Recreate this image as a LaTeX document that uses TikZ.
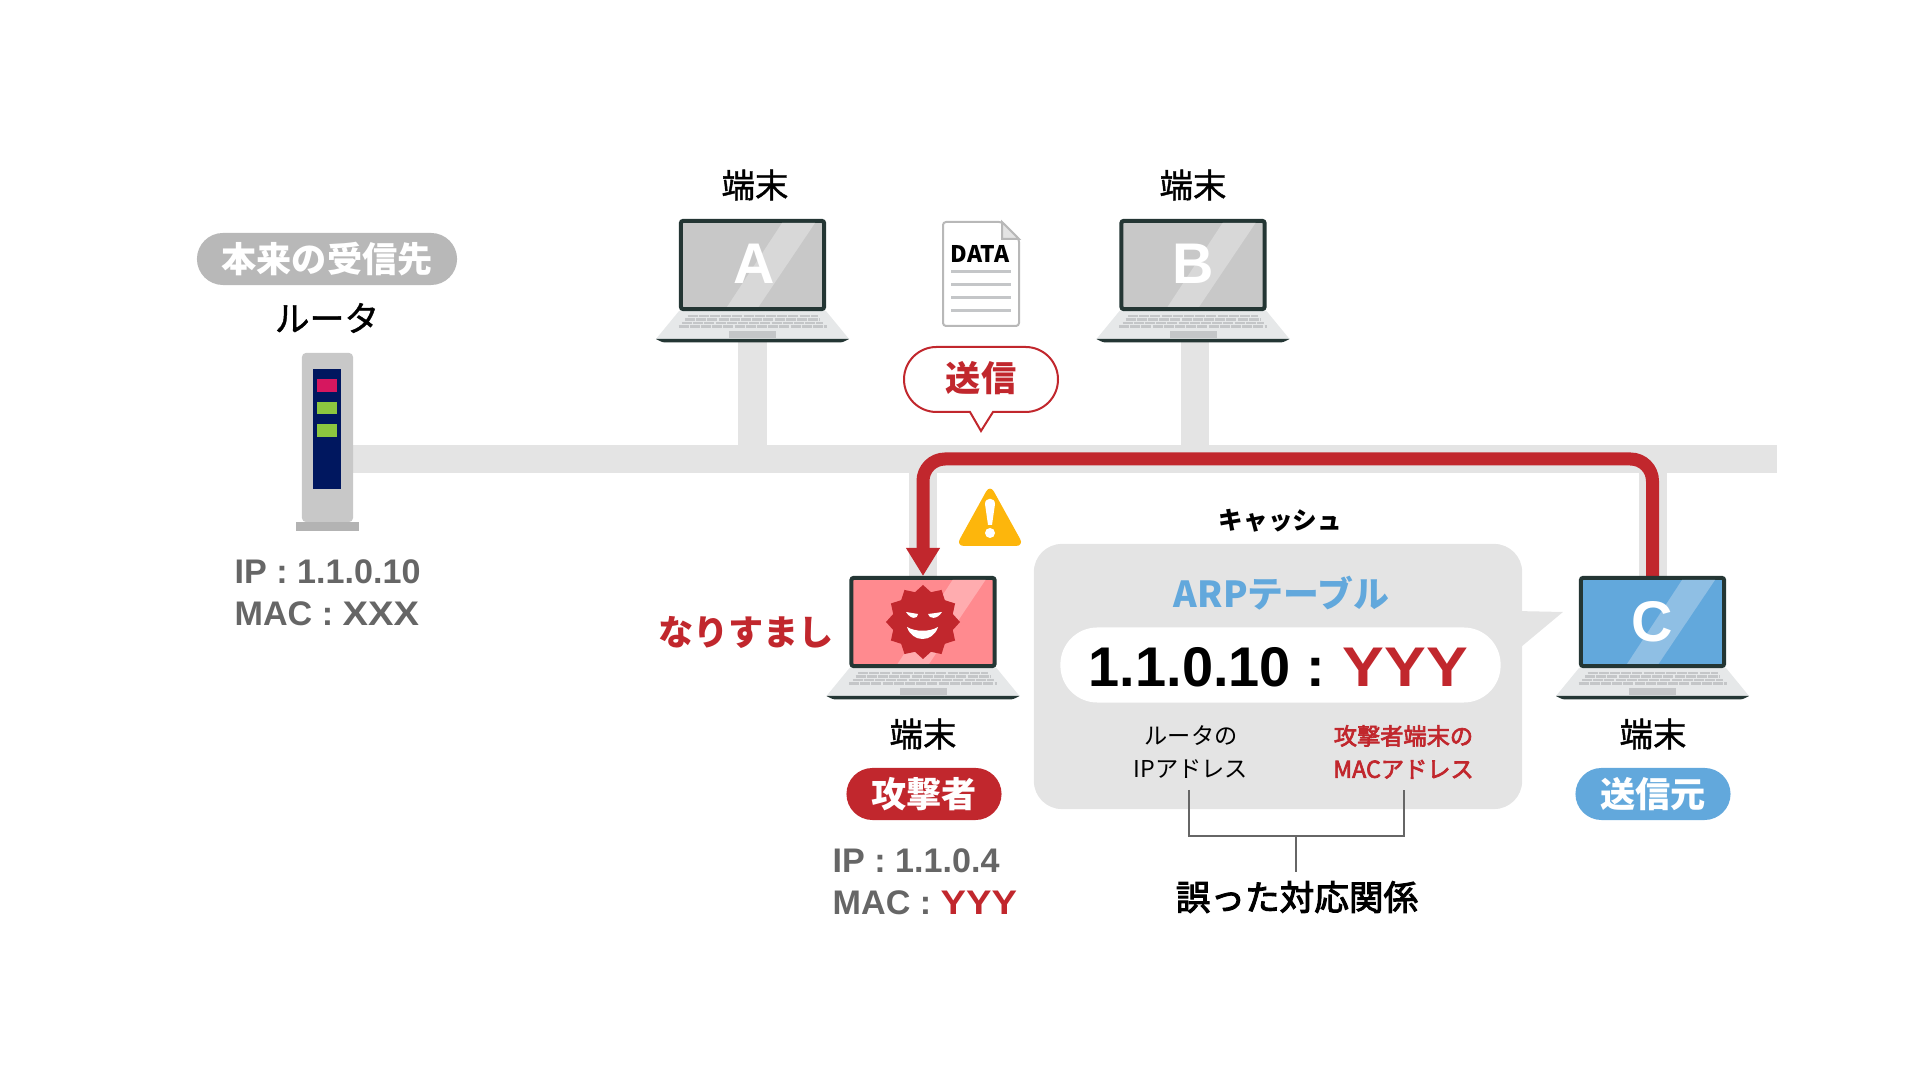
\documentclass[tikz,border=0pt]{standalone}
\usepackage{fontspec}
\setmainfont{Noto Sans CJK JP}
\newfontfamily\semifont[FakeBold=1.2]{Noto Sans CJK JP}
\newfontfamily\medfont[FakeBold=3]{Noto Sans CJK JP}
\newfontfamily\arialfont{Liberation Sans}
\newfontfamily\widefont[FakeStretch=1.12]{Liberation Sans}
\usetikzlibrary{arrows.meta,shapes.geometric}
\definecolor{alertred}{HTML}{C1272D}
\definecolor{skyblue}{HTML}{62A8DC}
\definecolor{skylight}{HTML}{8FBFE4}
\definecolor{busgray}{HTML}{E4E4E4}
\definecolor{pillgray}{HTML}{B8B8B8}
\definecolor{addrgray}{HTML}{666666}
\definecolor{lapdark}{HTML}{243634}
\definecolor{lapbase}{HTML}{E6E8E9}
\definecolor{lapkey}{HTML}{C4C6C8}
\definecolor{scrgray}{HTML}{C8C8C8}
\definecolor{scrgraylight}{HTML}{D8D8D8}
\definecolor{scrred}{HTML}{FF8A8F}
\definecolor{scrredlight}{HTML}{FFACAF}
\definecolor{navybg}{HTML}{00175F}
\definecolor{ledpink}{HTML}{D6175F}
\definecolor{ledgreen}{HTML}{8CC63F}
\definecolor{warnyellow}{HTML}{FDB60C}
\definecolor{routerfoot}{HTML}{B3B3B3}
\tikzset{
    busline/.style={draw=busgray, line width=0.28cm},
    sendline/.style={draw=alertred, line width=0.13cm, rounded corners=0.22cm},
    lapscreen/.style={draw=lapdark, line width=0.04cm, rounded corners=0.02cm, minimum width=1.43cm, minimum height=0.88cm, inner sep=0pt},
    laptitle/.style={font=\arialfont\bfseries\fontsize{16.3pt}{18pt}\selectfont, text=white, inner sep=0pt},
    termlabel/.style={font=\semifont\fontsize{9.5pt}{11pt}\selectfont, inner sep=0pt},
    pilltag/.style={font=\bfseries\fontsize{10pt}{12pt}\selectfont, text=white, rounded corners=0.26cm, minimum width=1.55cm, minimum height=0.52cm, inner sep=0pt},
    addrtext/.style={font=\arialfont\bfseries\fontsize{9.7pt}{11pt}\selectfont, text=addrgray, anchor=west, inner sep=0pt},
    tablenote/.style={font=\fontsize{6.6pt}{9.4pt}\selectfont, align=center, inner sep=0pt},
    pics/laptop/.style 2 args={code={
        \fill[lapbase] (-73.5,92) -- (73.5,92) -- (96.5,120) -- (-96.5,120) -- cycle;
        \fill[lapdark] (-96.5,120) -- (96.5,120) .. controls (90,123.5) .. (84,123.5) -- (-84,123.5) .. controls (-90,123.5) .. cycle;
        \foreach \ky/\kx in {97/65, 100.5/67.5, 104/70.5, 107.5/74}
            \draw[lapkey, line width=0.028cm, dash pattern=on 0.1cm off 0.012cm] (-\kx,\ky) -- (\kx,\ky);
        \fill[lapkey] (-23.5,112) rectangle (23.5,119);
        \node[lapscreen, fill=#1] (-scr) at (0,46) {};
        \fill[#2] (29.5,4) -- (62.5,4) -- (6,88) -- (-25.5,88) -- cycle;
    }}
}

\begin{document}
\begin{tikzpicture}[x=0.01cm, y=-0.01cm]
    \useasboundingbox (0,0) rectangle (1920,1080);

    % Named points on the line
    \coordinate (busend) at (1777,459);
    \coordinate (topA) at (752.5,219);
    \coordinate (topB) at (1195,219);
    \coordinate (topD) at (923,576);
    \coordinate (topC) at (1652.5,576);
    \coordinate (routerpt) at (327.5,437.5);

    % Line
    \draw[busline] (routerpt |- busend) -- (busend);
    \draw[busline] (topA) -- (topA |- busend);
    \draw[busline] (topB) -- (topB |- busend);
    \draw[busline] (topD) -- (topD |- busend);
    \draw[busline] (topC) -- (topC |- busend);

    % Router
    \node[fill=scrgray, rounded corners=0.04cm, minimum width=0.51cm, minimum height=1.69cm, inner sep=0pt] (router) at (routerpt) {};
    \fill[routerfoot] (296,522) rectangle (359,531);
    \fill[navybg] (313,369) rectangle (341,489);
    \fill[ledpink] (317,379) rectangle (337,392);
    \fill[ledgreen] (317,402) rectangle (337,414);
    \fill[ledgreen] (317,424) rectangle (337,437);

    \node[pilltag, fill=pillgray, minimum width=2.6cm] (tagR) at (327,259) {本来の受信先};
    \node[termlabel, font=\semifont\fontsize{9.9pt}{11pt}\selectfont] (nameR) at (327,318) {ルータ};
    \node[addrtext] (ipR) at (234,571.5) {IP : 1.1.0.10};
    \node[addrtext] (macR) at (234,613.5) {MAC : {\widefont\bfseries XXX}};

    % Send path
    \draw[sendline, -{Triangle[length=0.28cm,width=0.32cm]}] (topC) -- (topC |- busend) -- (topD |- busend) -- (topD);

    % Terminal A
    \node[termlabel] (nameA) at (755,185) {端末};
    \pic (lapA) at (topA) {laptop={scrgray}{scrgraylight}};
    \node[laptitle] (titleA) at (754.5,264) {A};

    % Terminal B
    \node[termlabel] (nameB) at (1193,185) {端末};
    \pic (lapB) at (1193,219) {laptop={scrgray}{scrgraylight}};
    \node[laptitle] (titleB) at (1193,264) {B};

    % Data sheet
    \draw[draw=pillgray, line width=0.02cm, fill=white, rounded corners=0.03cm] (943,222) -- (1002,222) -- (1019,239) -- (1019,326) -- (943,326) -- cycle;
    \draw[draw=pillgray, line width=0.02cm, fill=busgray] (1002,222) -- (1002,239) -- (1019,239) -- cycle;
    \foreach \ly in {272,285,298,311}
        \draw[draw=lapkey, line width=0.03cm] (951,\ly) -- (1011,\ly);
    \node[font=\bfseries\fontsize{6.5pt}{8pt}\selectfont, inner sep=0pt] (datatext) at (980,254) {DATA};

    % Send balloon
    \draw[draw=alertred, line width=0.02cm, fill=white] (936.5,347) -- (1025.5,347) .. controls (1043.5,347) and (1058,361.5) .. (1058,379.5) .. controls (1058,397.5) and (1043.5,412) .. (1025.5,412) -- (993,412) -- (981,431) -- (970,412) -- (936.5,412) .. controls (918.5,412) and (904,397.5) .. (904,379.5) .. controls (904,361.5) and (918.5,347) .. (936.5,347) -- cycle;
    \node[font=\bfseries\fontsize{10pt}{12pt}\selectfont, text=alertred, inner sep=0pt] (sendtext) at (981,378) {送信};

    % Warning
    \fill[warnyellow, rounded corners=0.08cm] (990,484.5) -- (1024,546) -- (956,546) -- cycle;
    \fill[white] (985,504) .. controls (985,497) and (995,497) .. (995,504) -- (992,525) -- (988,525) -- cycle;
    \fill[white] (990,533) circle[radius=0.05cm];

    % Attacker
    \pic (lapD) at (topD) {laptop={scrred}{scrredlight}};
    \node[star, star points=12, star point ratio=1.2, fill=alertred, minimum size=0.74cm, inner sep=0pt] (badge) at (923,622) {};
    \fill[white] (906,612) .. controls (912,613) .. (918,614) .. controls (918,619) and (911,620) .. cycle;
    \fill[white] (942,612) .. controls (936,613) .. (928,614) .. controls (929,619) and (937,620) .. cycle;
    \fill[white] (907,627) .. controls (915,632) and (930,632) .. (938,627) .. controls (933,643) and (912,643) .. cycle;
    \node[font=\bfseries\fontsize{10pt}{12pt}\selectfont, text=alertred, inner sep=0pt] (spoof) at (746,632) {なりすまし};
    \node[termlabel] (nameD) at (923,734) {端末};
    \node[pilltag, fill=alertred] (tagD) at (924,794) {攻撃者};
    \node[addrtext] (ipD) at (832,860.5) {IP : 1.1.0.4};
    \node[addrtext] (macD) at (832,902.5) {MAC : \textcolor{alertred}{\widefont\bfseries YYY}};

    % Terminal C
    \pic (lapC) at (topC) {laptop={skyblue}{skylight}};
    \node[laptitle] (titleC) at (1652,622) {C};
    \node[termlabel] (nameC) at (1653,734) {端末};
    \node[pilltag, fill=skyblue] (tagC) at (1653,794) {送信元};

    % Cache
    \node[font=\bfseries\fontsize{7pt}{8pt}\selectfont, inner sep=0pt] (cachetext) at (1280.5,521) {キャッシュ};
    \node[fill=busgray, rounded corners=0.28cm, minimum width=4.88cm, minimum height=2.65cm, inner sep=0pt] (cachebox) at (1278,676.5) {};
    \fill[busgray] (1515,611) -- (1563,612) -- (1515,652) -- cycle;
    \node[font=\bfseries\fontsize{10.2pt}{12pt}\selectfont, text=skyblue, inner sep=0pt] (arptitle) at (1281.5,593) {ARPテーブル};
    \node[fill=white, rounded corners=0.37cm, minimum width=4.4cm, minimum height=0.75cm, inner sep=0pt] (arppill) at (1280.5,665) {};
    \node[font=\arialfont\bfseries\fontsize{15.9pt}{18pt}\selectfont, inner sep=0pt] (arpentry) at (1278.5,667.5) {1.1.0.10 :\hspace{-0.03cm} \textcolor{alertred}{\widefont\bfseries YYY}};
    \node[tablenote] (noteip) at (1191,752) {ルータの\\IPアドレス};
    \node[tablenote, text=alertred, font=\medfont\fontsize{6.6pt}{9.4pt}\selectfont] (notemac) at (1403.5,752) {攻撃者端末の\\MACアドレス};

    % Wrong pair
    \node[font=\medfont\fontsize{9.85pt}{11pt}\selectfont, inner sep=0pt] (wrongpair) at (1297,897) {誤った対応関係};
    \coordinate (brL) at (1189,790);
    \coordinate (brR) at (1404,790);
    \coordinate (brmid) at (1296,836);
    \coordinate (brend) at (1296,872);
    \draw[draw=addrgray, line width=0.015cm] (brL) -- (brL |- brmid) -- (brR |- brmid) -- (brR);
    \draw[draw=addrgray, line width=0.015cm] (brmid) -- (brend);
\end{tikzpicture}
\end{document}
